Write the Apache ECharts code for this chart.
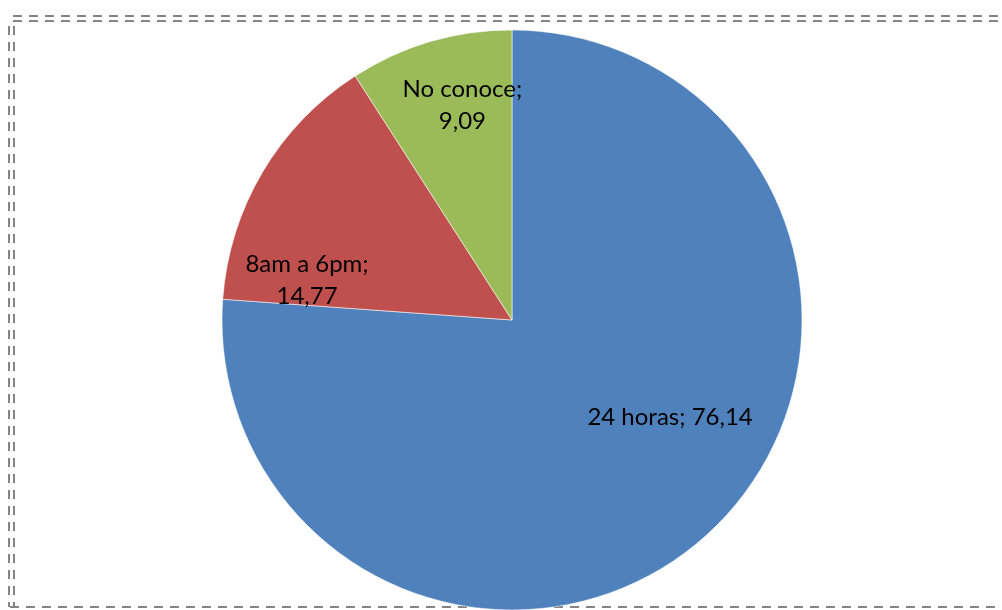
<!DOCTYPE html>
<html>
<head>
<meta charset="utf-8">
<script src="https://cdn.jsdelivr.net/npm/echarts@6/dist/echarts.min.js"></script>
<style>
  html, body { margin: 0; padding: 0; background: #fff; }
  #chart { width: 1002px; height: 610px; }
</style>
</head>
<body>
<div id="chart"></div>
<script>
// Horario de atención: distribución de respuestas (%)
const categories = ['24 horas', '8am a 6pm', 'No conoce'];
const values = [76.14, 14.77, 9.09];
const colors = ['#4F81BD', '#C0504D', '#9BBB59'];

// Label placement per slice: angle clockwise from 12 o'clock (deg) and distance as fraction of radius
const labelAngles = [121.6, 281, 347];
const labelRadii = [0.64, 0.72, 0.76];

const center = [512, 320];
const radius = 290;

const fmt = v => v.toFixed(2).replace('.', ',');

const chart = echarts.init(document.getElementById('chart'), null, { renderer: 'canvas' });

const dash = { stroke: '#848484', lineWidth: 2, lineDash: [9, 7] };

chart.setOption({
  backgroundColor: '#ffffff',
  animation: false,
  series: [{
    type: 'pie',
    center: center,
    radius: [0, radius],
    startAngle: 90,
    clockwise: true,
    silent: true,
    data: categories.map((c, i) => ({
      name: c,
      value: values[i],
      itemStyle: { color: colors[i] }
    })),
    itemStyle: { borderColor: 'rgba(255,255,255,0.55)', borderWidth: 1 },
    label: {
      show: true,
      position: 'inside',
      fontFamily: 'Lato',
      fontSize: 24,
      lineHeight: 32,
      color: '#000',
      align: 'center',
      formatter: p => {
        const i = p.dataIndex;
        const text = p.name + '; ' + fmt(values[i]);
        return i === 0 ? text : p.name + ';\n' + fmt(values[i]);
      }
    },
    labelLine: { show: false },
    labelLayout: p => {
      const i = p.dataIndex;
      const a = labelAngles[i] * Math.PI / 180;
      const r = labelRadii[i] * radius;
      return {
        x: center[0] + r * Math.sin(a),
        y: center[1] - r * Math.cos(a),
        align: 'center',
        verticalAlign: 'middle'
      };
    }
  }],
  graphic: [
    { type: 'line', silent: true, shape: { x1: 13, y1: 16, x2: 1002, y2: 16 }, style: dash },
    { type: 'line', silent: true, shape: { x1: 13, y1: 21, x2: 1002, y2: 21 }, style: dash },
    { type: 'line', silent: true, shape: { x1: 9, y1: 26, x2: 9, y2: 607 }, style: dash },
    { type: 'line', silent: true, shape: { x1: 14, y1: 26, x2: 14, y2: 607 }, style: dash },
    { type: 'line', silent: true, shape: { x1: 10, y1: 607, x2: 1002, y2: 607 }, style: dash }
  ]
});
</script>
</body>
</html>
